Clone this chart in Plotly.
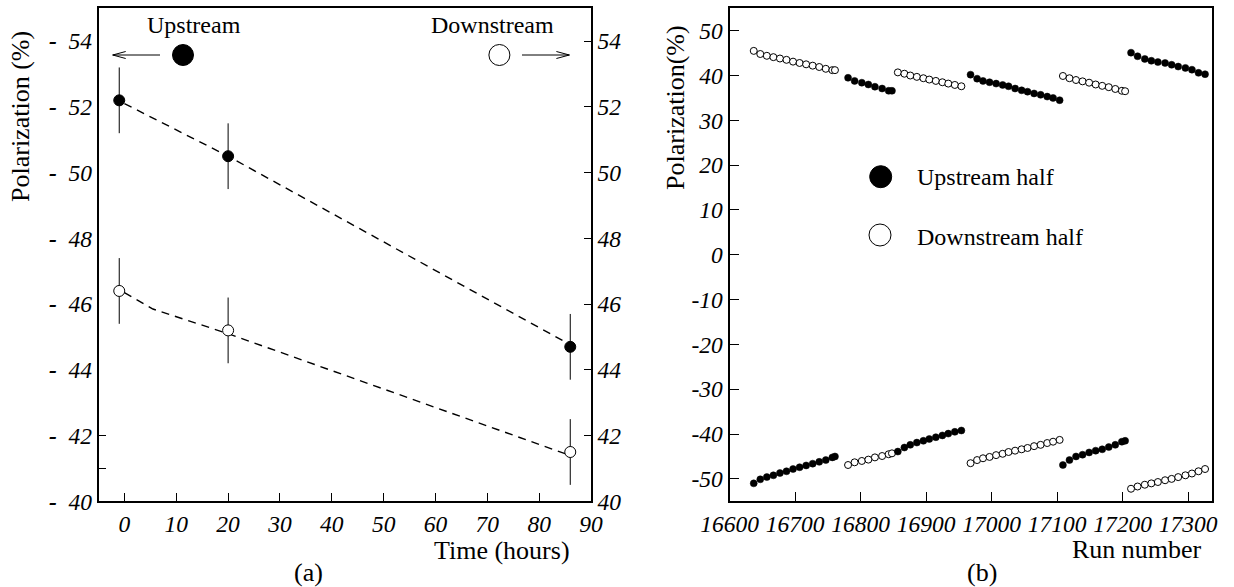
import plotly.graph_objects as go

W, H = 1234, 587
FONT = "Liberation Serif"

# ---------------- Panel (a) data ----------------
time_h = [-1, 20, 86]
pol_up = [52.2, 50.5, 44.7]
pol_down = [46.4, 45.2, 41.5]
err_up = [1.0, 1.0, 1.0]
err_down = [1.0, 1.0, 1.0]
fit_time_up = [0, 20, 85]
fit_up = [52.1, 50.5, 44.85]
fit_time_down = [0, 5.5, 20, 85]
fit_down = [46.35, 45.85, 45.1, 41.45]
a_yticks = [40, 42, 44, 46, 48, 50, 52, 54]
a_xticks = [0, 10, 20, 30, 40, 50, 60, 70, 80, 90]

# ---------------- Panel (b) data ----------------
runs_b = [
    16637, 16647, 16657, 16667, 16677, 16687, 16697, 16707, 16717, 16727, 16737, 16747, 16757, 16761,
    16781, 16791, 16802, 16812, 16822, 16833, 16843, 16848,
    16857, 16867, 16876, 16886, 16896, 16905, 16915, 16925, 16934, 16944, 16954,
    16968, 16978, 16987, 16997, 17007, 17017, 17026, 17036, 17046, 17055, 17065, 17075, 17085, 17094, 17104,
    17109, 17119, 17129, 17139, 17149, 17159, 17169, 17179, 17189, 17199, 17204,
    17213, 17223, 17234, 17244, 17254, 17265, 17275, 17285, 17296, 17306, 17316, 17326,
]
upstream_b = [
    -51.0, -50.1, -49.6, -49.2, -48.7, -48.3, -47.8, -47.4, -47.0, -46.6, -46.2, -45.8, -45.2, -45.0,
    39.5, 38.8, 38.4, 38.0, 37.5, 37.1, 36.6, 36.6,
    -43.9, -43.0, -42.4, -41.9, -41.5, -41.1, -40.7, -40.3, -39.9, -39.5, -39.2,
    40.2, 39.3, 38.8, 38.5, 38.2, 37.9, 37.6, 37.1, 36.7, 36.4, 36.0, 35.7, 35.3, 35.0, 34.5,
    -46.9, -45.8, -45.0, -44.6, -44.1, -43.7, -43.4, -42.9, -42.4, -41.7, -41.5,
    45.1, 44.3, 43.7, 43.3, 43.0, 42.8, 42.4, 42.0, 41.7, 41.3, 40.6, 40.3,
]
downstream_b = [
    45.5, 44.8, 44.4, 44.1, 43.8, 43.5, 43.1, 42.8, 42.5, 42.2, 41.9, 41.5, 41.2, 41.2,
    -46.9, -46.3, -46.0, -45.7, -45.2, -44.9, -44.5, -44.3,
    40.7, 40.4, 40.0, 39.7, 39.4, 39.1, 38.8, 38.5, 38.2, 37.9, 37.6,
    -46.5, -45.8, -45.4, -45.1, -44.7, -44.4, -44.0, -43.7, -43.4, -43.1, -42.7, -42.4, -42.0, -41.7, -41.3,
    39.9, 39.4, 39.0, 38.7, 38.4, 38.0, 37.7, 37.4, 37.0, 36.6, 36.5,
    -52.2, -51.7, -51.3, -51.0, -50.7, -50.3, -50.0, -49.6, -49.2, -48.8, -48.3, -47.8,
]
b_xticks = [16600, 16700, 16800, 16900, 17000, 17100, 17200, 17300]
b_yticks = [-50, -40, -30, -20, -10, 0, 10, 20, 30, 40, 50]


def px(x):
    return x / W


def py(y):
    return 1 - y / H


fig = go.Figure()

# panel (a): upstream on the left axis, downstream on the right axis
fig.add_trace(go.Scatter(x=fit_time_up, y=fit_up, mode="lines", xaxis="x", yaxis="y",
                         line=dict(color="black", width=1.4, dash="8px,6px"), showlegend=False))
fig.add_trace(go.Scatter(x=time_h, y=pol_up, mode="markers", xaxis="x", yaxis="y",
                         error_y=dict(type="data", array=err_up, color="black", thickness=1, width=0),
                         marker=dict(size=11, color="black", line=dict(color="black", width=1)),
                         showlegend=False))
fig.add_trace(go.Scatter(x=fit_time_down, y=fit_down, mode="lines", xaxis="x", yaxis="y2",
                         line=dict(color="black", width=1.4, dash="8px,6px"), showlegend=False))
fig.add_trace(go.Scatter(x=time_h, y=pol_down, mode="markers", xaxis="x", yaxis="y2",
                         error_y=dict(type="data", array=err_down, color="black", thickness=1, width=0),
                         marker=dict(size=11, color="white", line=dict(color="black", width=1)),
                         showlegend=False))

# panel (b)
fig.add_trace(go.Scatter(x=runs_b, y=downstream_b, mode="markers", xaxis="x2", yaxis="y3",
                         marker=dict(size=7, color="white", line=dict(color="black", width=1)),
                         showlegend=False))
fig.add_trace(go.Scatter(x=runs_b, y=upstream_b, mode="markers", xaxis="x2", yaxis="y3",
                         marker=dict(size=7, color="black", line=dict(color="black", width=0.5)),
                         showlegend=False))

tickfont = dict(family=FONT, size=23.5, color="black", style="italic")
common = dict(showgrid=False, zeroline=False, automargin=False, tickfont=tickfont,
              tickcolor="black", tickwidth=1, linecolor="black")

fig.update_layout(
    width=W, height=H,
    margin=dict(l=0, r=0, t=0, b=0),
    paper_bgcolor="white", plot_bgcolor="white",
    font=dict(family=FONT, color="black"),
    xaxis=dict(domain=[px(98.5), px(591)], range=[-5, 90], anchor="y",
               tickvals=a_xticks, ticktext=[str(v) for v in a_xticks],
               ticks="inside", ticklen=8, showline=True, linewidth=2, mirror=True, **common),
    yaxis=dict(domain=[py(501.3), py(8.3)], range=[40, 55], anchor="x",
               tickvals=a_yticks, ticktext=["<b>-</b>\u00a0\u00a0" + str(v) for v in a_yticks],
               ticks="", showline=True, linewidth=1.5,
               minor=dict(tickvals=[41, 42], ticks="inside", ticklen=8, tickwidth=1, tickcolor="black"),
               **common),
    yaxis2=dict(overlaying="y", side="right", anchor="x", range=[40, 55],
                tickvals=a_yticks, ticktext=[str(v) for v in a_yticks],
                ticks="inside", ticklen=7, showline=True, linewidth=1.5, **common),
    xaxis2=dict(domain=[px(729.5), px(1211.6)], range=[16600, 17336], anchor="y3",
                tickvals=b_xticks, ticktext=[str(v) for v in b_xticks],
                ticks="inside", ticklen=9, showline=True, linewidth=2, mirror=True, **common),
    yaxis3=dict(domain=[py(501.3), py(8.3)], range=[-55, 55], anchor="x2",
                tickvals=b_yticks, ticktext=[str(v) for v in b_yticks],
                ticks="inside", ticklen=9, showline=True, linewidth=2, mirror=True, **common),
)

shapes = []
# legend circles
for cx, cy, r, fill in [(183, 55, 10.5, "black"), (499.4, 55, 10.5, "white"),
                        (880.7, 176.7, 11, "black"), (880, 235, 11, "white")]:
    shapes.append(dict(type="circle", xref="paper", yref="paper",
                       x0=px(cx - r), x1=px(cx + r), y0=py(cy + r), y1=py(cy - r),
                       fillcolor=fill, line=dict(color="black", width=1)))


def arrow(x_tail, x_tip, y):
    d = 1 if x_tail > x_tip else -1
    path = (f"M {px(x_tail)} {py(y)} L {px(x_tip)} {py(y)} "
            f"M {px(x_tip + d * 13)} {py(y - 3.5)} L {px(x_tip)} {py(y)} L {px(x_tip + d * 13)} {py(y + 3.5)}")
    return dict(type="path", xref="paper", yref="paper", path=path,
                line=dict(color="black", width=1))


shapes.append(arrow(160, 112.7, 55))
shapes.append(arrow(522, 569.4, 55))
fig.update_layout(shapes=shapes)


def label(text, x, y, size=24, xanchor="center", angle=0):
    fig.add_annotation(text=text, x=px(x), y=py(y), xref="paper", yref="paper",
                       xanchor=xanchor, yanchor="middle", showarrow=False, textangle=angle,
                       font=dict(family=FONT, size=size, color="black"))


label("Upstream", 193.7, 25)
label("Downstream", 492, 25)
label("Upstream half", 915, 177, xanchor="left")
label("Downstream half", 915, 237, xanchor="left")
label("Polarization (%)", 20, 117, size=26, angle=-90)
label("Time (hours)", 502, 550, size=26)
label("(a)", 308, 572, size=26)
label("Polarization(%)", 675, 108, size=26, angle=-90)
label("Run number", 1137, 549, size=26)
label("(b)", 982, 572, size=26)

fig.write_html("out.html")
